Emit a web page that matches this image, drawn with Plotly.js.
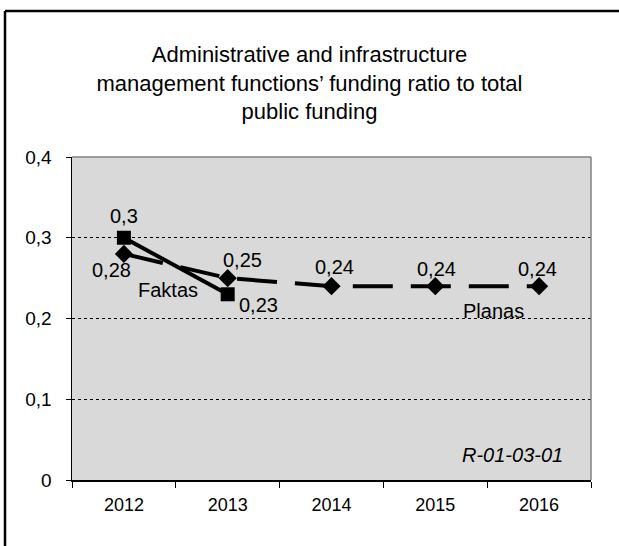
<!DOCTYPE html>
<html>
<head>
<meta charset="utf-8">
<script src="https://cdn.plot.ly/plotly-3.0.1.min.js"></script>
<style>
  html, body { margin: 0; padding: 0; background: #ffffff; }
  #chart { width: 619px; height: 546px; }
</style>
</head>
<body>
<div id="chart"></div>
<script>
// ---- data ----
const years = ["2012", "2013", "2014", "2015", "2016"];
const faktasYears = ["2012", "2013"];
const faktasValues = [0.3, 0.23];
const planasYears = ["2012", "2013", "2014", "2015", "2016"];
const planasValues = [0.28, 0.25, 0.24, 0.24, 0.24];
const yTickVals = [0, 0.1, 0.2, 0.3, 0.4];
const yTickText = ["0", "0,1", "0,2", "0,3", "0,4"];
const titleText = "Administrative and infrastructure<br>management functions’ funding ratio to total<br>public funding";
const faktasName = "Faktas";
const planasName = "Planas";
const chartCode = "R-01-03-01";

const fmt = v => String(v).replace(".", ",");
const FONT = "Liberation Sans, Arial, sans-serif";
const LBL = 20;

const traces = [
  {
    x: planasYears, y: planasValues, name: planasName, type: "scatter", mode: "lines+markers",
    line: { color: "#000000", width: 4, dash: "40px,18px" },
    marker: { symbol: "diamond", size: 14, color: "#000000" },
    cliponaxis: false
  },
  {
    x: faktasYears, y: faktasValues, name: faktasName, type: "scatter", mode: "lines+markers",
    line: { color: "#000000", width: 4 },
    marker: { symbol: "square", size: 14, color: "#000000" },
    cliponaxis: false
  }
];

// label offsets (px) per point
const faktasShift = [[0, 22], [31, -11]];
const planasShift = [[-12, -16], [15, 18], [3, 19], [1, 17], [-2, 17]];

const annotations = [];
faktasValues.forEach((v, i) => annotations.push({
  x: years.indexOf(faktasYears[i]), y: v, xref: "x", yref: "y", text: fmt(v), showarrow: false,
  xshift: faktasShift[i][0], yshift: faktasShift[i][1],
  font: { family: FONT, size: LBL, color: "#000" }
}));
planasValues.forEach((v, i) => annotations.push({
  x: years.indexOf(planasYears[i]), y: v, xref: "x", yref: "y", text: fmt(v), showarrow: false,
  xshift: planasShift[i][0], yshift: planasShift[i][1],
  font: { family: FONT, size: LBL, color: "#000" }
}));
annotations.push({
  x: 0, y: 0.3, xref: "x", yref: "y", text: faktasName, showarrow: false,
  xshift: 44, yshift: -52, font: { family: FONT, size: LBL, color: "#000" }
});
annotations.push({
  x: 3.5, y: 0.2, xref: "x", yref: "y", text: planasName, showarrow: false,
  xshift: 6, yshift: 8, font: { family: FONT, size: LBL, color: "#000" }
});
annotations.push({
  x: 1, y: 0, xref: "paper", yref: "paper", xanchor: "right", yanchor: "bottom",
  text: "<i>" + chartCode + "</i>", showarrow: false, xshift: -26, yshift: 12,
  font: { family: FONT, size: LBL, color: "#000" }
});

const layout = {
  width: 619, height: 546,
  margin: { l: 72, r: 28, t: 157, b: 66 },
  paper_bgcolor: "#ffffff",
  plot_bgcolor: "#d9d9d9",
  showlegend: false,
  font: { family: FONT, size: 18, color: "#000" },
  title: {
    text: titleText, font: { family: FONT, size: 22, color: "#000" },
    x: 321, xref: "container", xanchor: "center",
    y: 1 - 62 / 546, yanchor: "top"
  },
  xaxis: {
    type: "category", categoryarray: years, categoryorder: "array",
    range: [-0.5, 4.5], showgrid: false, zeroline: false,
    showline: true, linecolor: "#000", linewidth: 1.5,
    ticks: "outside", ticklen: 6, tickcolor: "#000", tickson: "boundaries",
    ticklabelstandoff: 8,
    tickfont: { family: FONT, size: 18, color: "#000" }, fixedrange: true
  },
  yaxis: {
    range: [0, 0.4], tickvals: yTickVals, ticktext: yTickText,
    showgrid: true, gridcolor: "#000", griddash: "dot", gridwidth: 1,
    zeroline: false, showline: true, linecolor: "#000", linewidth: 1.5,
    ticks: "outside", ticklen: 5, tickcolor: "#000",
    ticklabelstandoff: 10,
    tickfont: { family: FONT, size: 19, color: "#000" }, fixedrange: true
  },
  shapes: [
    // plot-area frame (grey, top & right)
    { type: "line", xref: "paper", yref: "paper", x0: 0, x1: 1, y0: 1, y1: 1, line: { color: "#808080", width: 1.5 } },
    { type: "line", xref: "paper", yref: "paper", x0: 1, x1: 1, y0: 0, y1: 1, line: { color: "#808080", width: 1.5 } },
    // outer chart border
    { type: "line", xref: "paper", yref: "paper", x0: (5 - 72) / 519, x1: (619 - 72) / 519, y0: (480 - 11) / 323, y1: (480 - 11) / 323, line: { color: "#000", width: 2.5 } },
    { type: "line", xref: "paper", yref: "paper", x0: (5 - 72) / 519, x1: (5 - 72) / 519, y0: (480 - 11) / 323, y1: (480 - 560) / 323, line: { color: "#000", width: 2.5 } }
  ],
  annotations: annotations
};

Plotly.newPlot("chart", traces, layout, { displayModeBar: false, staticPlot: true });
</script>
</body>
</html>
